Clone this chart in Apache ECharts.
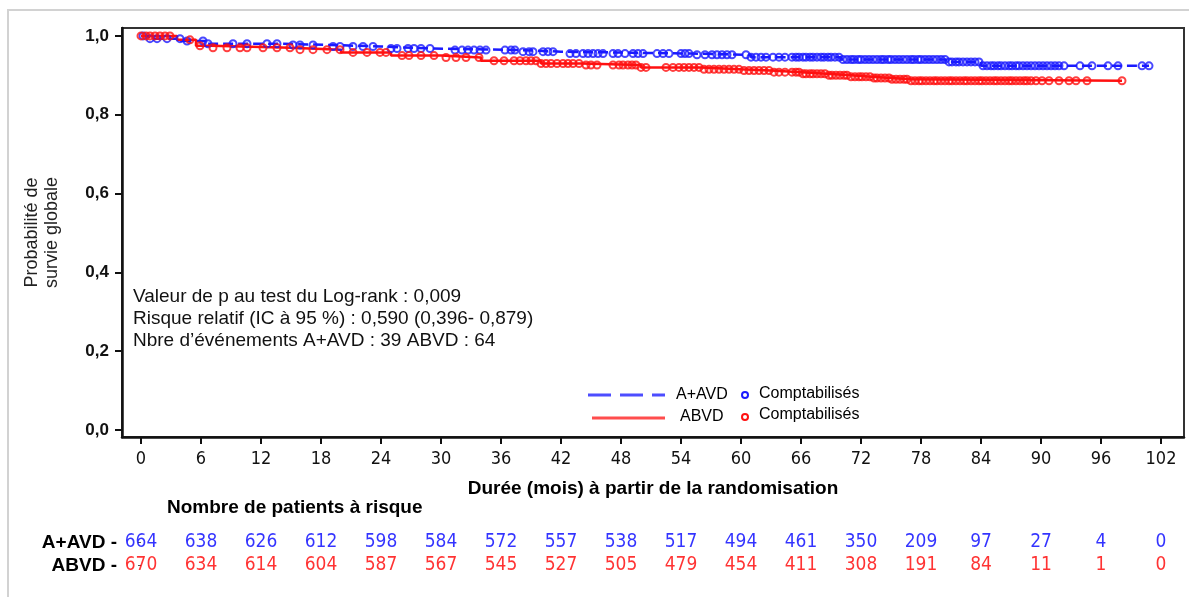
<!DOCTYPE html>
<html>
<head>
<meta charset="utf-8">
<script src="https://cdn.jsdelivr.net/npm/echarts@6/dist/echarts.min.js"></script>
<style>
  html, body { margin: 0; padding: 0; background: #fff; }
  #chart { width: 1189px; height: 597px; }
</style>
</head>
<body>
<div id="chart"></div>
<script>
// Axis ticks
const monthTicks = [0, 6, 12, 18, 24, 30, 36, 42, 48, 54, 60, 66, 72, 78, 84, 90, 96, 102];
const probTicks = [0, 0.2, 0.4, 0.6, 0.8, 1.0];

// Arms
const armNames = ['A+AVD', 'ABVD'];

// Kaplan-Meier steps: time (months) where survival changes, and survival after it
const avdStepTimes = [0, 0.8, 4, 6.5, 14, 19, 24, 29, 38, 42, 55, 61, 70, 80.5, 84, 100.8];
const avdStepSurv  = [1.0, 0.993, 0.987, 0.980, 0.977, 0.973, 0.968, 0.964, 0.960, 0.955, 0.952, 0.946, 0.940, 0.934, 0.924, 0.924];

const abvdStepTimes = [0, 3.6, 5.5, 7, 15, 20, 25, 30, 34, 40, 44, 50, 56, 60, 63, 66, 68.5, 71, 73, 75, 77, 98.1];
const abvdStepSurv  = [1.0, 0.990, 0.975, 0.970, 0.965, 0.958, 0.950, 0.945, 0.937, 0.930, 0.926, 0.920, 0.915, 0.912, 0.908, 0.904, 0.900, 0.896, 0.893, 0.890, 0.886, 0.886];

// Censored observations (months)
const avdCensorTimes = [
  0.2, 0.9, 1.6, 2.6, 3.9, 4.6, 6.2, 6.7, 9.2, 10.6, 12.6, 13.6, 15.2, 15.9, 17.2, 19.2, 19.9, 21.2, 22.2,
  23.2, 25.0, 25.6, 26.7, 27.3, 28.0, 28.9, 31.4, 32.1, 32.7, 33.3, 33.9, 34.5, 36.4, 37.0, 37.4, 38.2,
  38.8, 39.2, 40.2, 40.7, 41.2, 42.9, 43.5, 44.2, 44.7, 45.2, 45.7, 46.2, 47.2, 47.7, 48.4, 49.2, 49.7,
  50.2, 51.6, 52.2, 52.8, 54.0, 54.4, 54.8, 55.6, 56.4, 57.1, 57.6, 58.1, 58.6, 59.1, 60.5, 61.0, 61.5,
  62.0, 62.5, 63.2, 63.8, 64.4, 65.1, 65.5, 65.8, 66.2, 66.5, 66.9, 67.2, 67.6, 68.0, 68.3, 68.7, 69.0,
  69.4, 69.8, 70.2, 70.6, 71.0, 71.3, 71.7, 72.0, 72.4, 72.8, 73.2, 73.6, 74.0, 74.3, 74.7, 75.0, 75.4,
  75.8, 76.2, 76.6, 77.0, 77.3, 77.7, 78.0, 78.4, 78.8, 79.2, 79.6, 80.0, 80.4, 80.8, 81.1, 81.5, 81.8,
  82.2, 82.6, 83.0, 83.4, 83.8, 84.2, 84.6, 85.0, 85.3, 85.7, 86.0, 86.4, 86.8, 87.1, 87.5, 87.8, 88.2,
  88.6, 89.0, 89.4, 89.8, 90.2, 90.6, 91.0, 91.4, 91.8, 92.3, 93.9, 95.1, 96.7, 97.7, 100.1, 100.8
];
const abvdCensorTimes = [
  0.0, 0.5, 0.9, 1.4, 1.9, 2.4, 2.9, 4.9, 5.9, 7.2, 8.6, 9.9, 10.6, 12.2, 13.6, 14.9, 15.9, 17.2, 18.6,
  19.9, 21.2, 22.6, 23.9, 24.5, 26.1, 26.8, 28.0, 29.3, 30.5, 31.5, 32.5, 33.8, 35.3, 36.3, 37.3, 37.9,
  38.5, 39.0, 39.5, 40.0, 40.5, 41.0, 41.6, 42.2, 42.7, 43.2, 43.8, 44.5, 45.0, 45.6, 47.2, 47.8, 48.2,
  48.7, 49.1, 49.5, 50.0, 50.5, 52.5, 53.2, 53.8, 54.3, 54.8, 55.3, 55.8, 56.3, 56.8, 57.3, 57.8, 58.3,
  58.8, 59.3, 59.8, 60.3, 60.8, 61.3, 61.8, 62.3, 62.8, 63.3, 63.8, 64.4, 65.1, 65.5, 65.8, 66.2, 66.5,
  66.9, 67.2, 67.6, 68.0, 68.4, 68.8, 69.1, 69.5, 69.9, 70.3, 70.6, 71.0, 71.4, 71.8, 72.1, 72.5, 72.9,
  73.3, 73.6, 74.0, 74.4, 74.8, 75.1, 75.5, 75.9, 76.3, 76.6, 77.0, 77.4, 77.8, 78.1, 78.5, 78.9, 79.3,
  79.6, 80.0, 80.4, 80.8, 81.1, 81.5, 81.9, 82.3, 82.6, 83.0, 83.4, 83.8, 84.1, 84.5, 84.9, 85.3, 85.6,
  86.0, 86.4, 86.8, 87.1, 87.5, 87.9, 88.3, 88.6, 89.0, 89.5, 90.1, 90.8, 91.8, 92.8, 93.5, 94.6, 98.1
];

// Number at risk at each month tick
const avdAtRisk  = [664, 638, 626, 612, 598, 584, 572, 557, 538, 517, 494, 461, 350, 209, 97, 27, 4, 0];
const abvdAtRisk = [670, 634, 614, 604, 587, 567, 545, 527, 505, 479, 454, 411, 308, 191, 84, 11, 1, 0];

// Statistics block
const statLines = [
  'Valeur de p au test du Log-rank : 0,009',
  'Risque relatif (IC à 95 %) : 0,590 (0,396- 0,879)',
  'Nbre d\u2019événements A+AVD : 39 ABVD : 64'
];

const BLUE = '#1a1aff';
const RED = '#ff1010';
const SANS = '"Liberation Sans", Arial, Helvetica, sans-serif';
const NARROW = '"Liberation Sans Narrow", "Arial Narrow", "DejaVu Sans Condensed", sans-serif';

// Survival value of a step function at time t
function survivalAt(times, surv, t) {
  let s = surv[0];
  for (let i = 0; i < times.length; i++) {
    if (times[i] <= t) s = surv[i];
  }
  return s;
}

const avdCurve = avdStepTimes.map((t, i) => [t, avdStepSurv[i]]);
const abvdCurve = abvdStepTimes.map((t, i) => [t, abvdStepSurv[i]]);
const avdCensor = avdCensorTimes.map(t => [t, survivalAt(avdStepTimes, avdStepSurv, t)]);
const abvdCensor = abvdCensorTimes.map(t => [t, survivalAt(abvdStepTimes, abvdStepSurv, t)]);

const chart = echarts.init(document.getElementById('chart'), null, { renderer: 'canvas' });

const option = {
  animation: false,
  backgroundColor: '#fff',
  grid: [
    { left: 122, top: 28, right: 5, bottom: 160, show: true, borderColor: '#333', borderWidth: 2, backgroundColor: '#fff' },
    { left: 122, right: 5, top: 531, height: 46 }
  ],
  xAxis: [
    {
      type: 'value', gridIndex: 0, min: -1.9, max: 104.3,
      axisLine: { show: true, onZero: false, lineStyle: { color: '#111', width: 2.5 } },
      axisTick: { show: true, customValues: monthTicks, length: 7, lineStyle: { color: '#111', width: 2 } },
      axisLabel: { customValues: monthTicks, fontFamily: NARROW, fontSize: 18, color: '#111', margin: 13 },
      splitLine: { show: false },
      name: 'Durée (mois) à partir de la randomisation',
      nameLocation: 'middle', nameGap: 42,
      nameTextStyle: { fontFamily: SANS, fontWeight: 'bold', fontSize: 19, color: '#000' }
    },
    { type: 'value', gridIndex: 1, min: -1.9, max: 104.3, show: false }
  ],
  yAxis: [
    {
      type: 'value', gridIndex: 0, min: -0.018, max: 1.02,
      axisLine: { show: true, onZero: false, lineStyle: { color: '#111', width: 2.5 } },
      axisTick: { show: true, customValues: probTicks, length: 7, lineStyle: { color: '#111', width: 2 } },
      axisLabel: {
        customValues: probTicks, fontFamily: SANS, fontWeight: 'bold', fontSize: 17, color: '#111', margin: 13,
        formatter: v => v.toFixed(1).replace('.', ',')
      },
      splitLine: { show: false },
      name: 'Probabilité de\nsurvie globale',
      nameLocation: 'middle', nameGap: 60, nameRotate: 90,
      nameTextStyle: { fontFamily: SANS, fontSize: 18, lineHeight: 20, color: '#222' }
    },
    {
      type: 'category', gridIndex: 1, data: armNames, inverse: true,
      axisLine: { show: false },
      axisTick: { show: true, length: 3, alignWithLabel: true, interval: 0, lineStyle: { color: '#555' } },
      axisLabel: {
        interval: 0, fontFamily: SANS, fontWeight: 'bold', fontSize: 19, color: '#000', margin: 5,
        formatter: v => v + ' -'
      }
    }
  ],
  series: [
    {
      name: 'A+AVD', type: 'line', xAxisIndex: 0, yAxisIndex: 0, data: avdCurve, step: 'end',
      showSymbol: false, lineStyle: { color: BLUE, width: 2.5, type: [10, 5] }, z: 2
    },
    {
      name: 'ABVD', type: 'line', xAxisIndex: 0, yAxisIndex: 0, data: abvdCurve, step: 'end',
      showSymbol: false, lineStyle: { color: RED, width: 2.5 }, z: 3
    },
    {
      name: 'A+AVD censurés', type: 'scatter', xAxisIndex: 0, yAxisIndex: 0, data: avdCensor,
      symbol: 'circle', symbolSize: 7,
      itemStyle: { color: 'rgba(255,255,255,0)', borderColor: BLUE, borderWidth: 2 }, z: 4
    },
    {
      name: 'ABVD censurés', type: 'scatter', xAxisIndex: 0, yAxisIndex: 0, data: abvdCensor,
      symbol: 'circle', symbolSize: 7,
      itemStyle: { color: 'rgba(255,255,255,0)', borderColor: RED, borderWidth: 2 }, z: 5
    },
    {
      name: 'Risque A+AVD', type: 'scatter', xAxisIndex: 1, yAxisIndex: 1,
      data: monthTicks.map((t, i) => [t, 0, avdAtRisk[i]]),
      symbolSize: 1, itemStyle: { color: 'rgba(0,0,0,0)' },
      label: { show: true, position: 'inside', formatter: p => String(p.value[2]),
        fontFamily: NARROW, fontSize: 19, color: '#0000ff' }
    },
    {
      name: 'Risque ABVD', type: 'scatter', xAxisIndex: 1, yAxisIndex: 1,
      data: monthTicks.map((t, i) => [t, 1, abvdAtRisk[i]]),
      symbolSize: 1, itemStyle: { color: 'rgba(0,0,0,0)' },
      label: { show: true, position: 'inside', formatter: p => String(p.value[2]),
        fontFamily: NARROW, fontSize: 19, color: '#ff0000' }
    }
  ],
  graphic: [
    // outer frame
    { type: 'rect', z: -10, shape: { x: 8, y: 10, width: 1200, height: 600 },
      style: { fill: 'none', stroke: '#d2d2d2', lineWidth: 2 } },
    // statistics
    { type: 'text', x: 133, y: 286, z: 10,
      style: { text: statLines.join('\n'), font: '19px ' + SANS, lineHeight: 22, fill: '#111' } },
    // risk table heading
    { type: 'text', x: 167, y: 508, z: 10,
      style: { text: 'Nombre de patients à risque', font: 'bold 19px ' + SANS, fill: '#000', verticalAlign: 'middle' } },
    // legend
    { type: 'line', z: 10, shape: { x1: 588, y1: 395, x2: 665, y2: 395 },
      style: { stroke: '#4d4dff', lineWidth: 3, lineDash: [23, 9] } },
    { type: 'text', x: 676, y: 395, z: 10,
      style: { text: 'A+AVD', font: '16px ' + SANS, fill: '#000', verticalAlign: 'middle' } },
    { type: 'circle', z: 10, shape: { cx: 745, cy: 395, r: 3 },
      style: { fill: 'none', stroke: BLUE, lineWidth: 2 } },
    { type: 'text', x: 759, y: 394, z: 10,
      style: { text: 'Comptabilisés', font: '16px ' + SANS, fill: '#000', verticalAlign: 'middle' } },
    { type: 'line', z: 10, shape: { x1: 592, y1: 418, x2: 665, y2: 418 },
      style: { stroke: '#ff4d4d', lineWidth: 3 } },
    { type: 'text', x: 680, y: 417, z: 10,
      style: { text: 'ABVD', font: '16px ' + SANS, fill: '#000', verticalAlign: 'middle' } },
    { type: 'circle', z: 10, shape: { cx: 745, cy: 417, r: 3 },
      style: { fill: 'none', stroke: RED, lineWidth: 2 } },
    { type: 'text', x: 759, y: 415, z: 10,
      style: { text: 'Comptabilisés', font: '16px ' + SANS, fill: '#000', verticalAlign: 'middle' } }
  ]
};

chart.setOption(option);
</script>
</body>
</html>
